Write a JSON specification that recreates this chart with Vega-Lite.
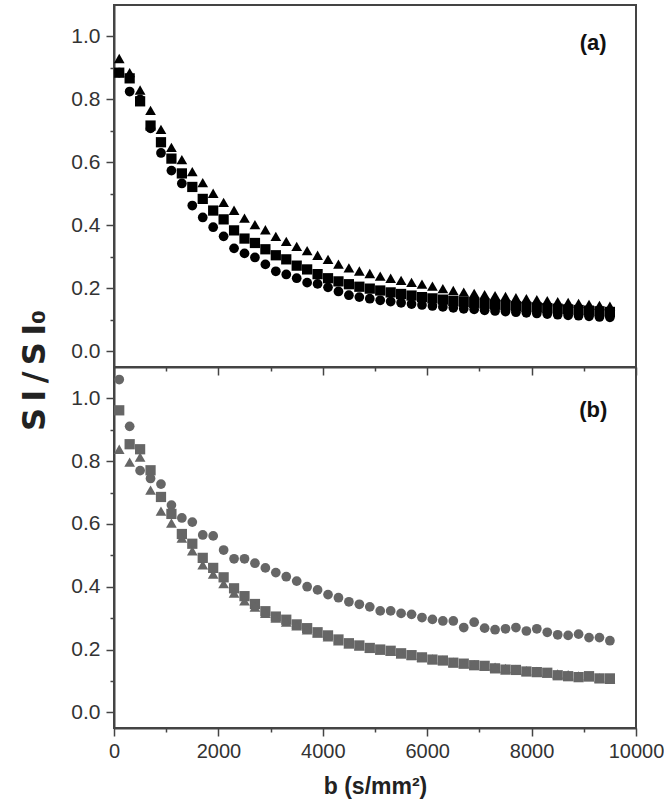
{
"$schema": "https://vega.github.io/schema/vega-lite/v6.json",
"padding": {"left": 18, "top": 4, "right": 0, "bottom": 0},
"bounds": "flush",
"spacing": 0,
"background": "white",
"title": {"text": "S\u2009I\u2009/\u2009S\u2009I\u2080", "orient": "left", "anchor": "middle", "dx": 31, "font": "DejaVu Sans", "fontSize": 32, "fontWeight": "bold", "color": "#222", "offset": 18},
"data": {"values": [
{"panel":"a","series":"circle","b":100,"si":0.885},{"panel":"a","series":"circle","b":300,"si":0.825},{"panel":"a","series":"circle","b":500,"si":0.8},{"panel":"a","series":"circle","b":700,"si":0.708},{"panel":"a","series":"circle","b":900,"si":0.63},{"panel":"a","series":"circle","b":1100,"si":0.574},{"panel":"a","series":"circle","b":1300,"si":0.533},{"panel":"a","series":"circle","b":1500,"si":0.463},{"panel":"a","series":"circle","b":1700,"si":0.425},{"panel":"a","series":"circle","b":1900,"si":0.394},{"panel":"a","series":"circle","b":2100,"si":0.365},{"panel":"a","series":"circle","b":2300,"si":0.327},{"panel":"a","series":"circle","b":2500,"si":0.311},{"panel":"a","series":"circle","b":2700,"si":0.298},{"panel":"a","series":"circle","b":2900,"si":0.276},{"panel":"a","series":"circle","b":3100,"si":0.254},{"panel":"a","series":"circle","b":3300,"si":0.244},{"panel":"a","series":"circle","b":3500,"si":0.232},{"panel":"a","series":"circle","b":3700,"si":0.218},{"panel":"a","series":"circle","b":3900,"si":0.214},{"panel":"a","series":"circle","b":4100,"si":0.203},{"panel":"a","series":"circle","b":4300,"si":0.19},{"panel":"a","series":"circle","b":4500,"si":0.178},{"panel":"a","series":"circle","b":4700,"si":0.172},{"panel":"a","series":"circle","b":4900,"si":0.167},{"panel":"a","series":"circle","b":5100,"si":0.162},{"panel":"a","series":"circle","b":5300,"si":0.158},{"panel":"a","series":"circle","b":5500,"si":0.154},{"panel":"a","series":"circle","b":5700,"si":0.15},{"panel":"a","series":"circle","b":5900,"si":0.147},{"panel":"a","series":"circle","b":6100,"si":0.144},{"panel":"a","series":"circle","b":6300,"si":0.141},{"panel":"a","series":"circle","b":6500,"si":0.138},{"panel":"a","series":"circle","b":6700,"si":0.135},{"panel":"a","series":"circle","b":6900,"si":0.133},{"panel":"a","series":"circle","b":7100,"si":0.13},{"panel":"a","series":"circle","b":7300,"si":0.128},{"panel":"a","series":"circle","b":7500,"si":0.126},{"panel":"a","series":"circle","b":7700,"si":0.124},{"panel":"a","series":"circle","b":7900,"si":0.122},{"panel":"a","series":"circle","b":8100,"si":0.12},{"panel":"a","series":"circle","b":8300,"si":0.118},{"panel":"a","series":"circle","b":8500,"si":0.116},{"panel":"a","series":"circle","b":8700,"si":0.114},{"panel":"a","series":"circle","b":8900,"si":0.113},{"panel":"a","series":"circle","b":9100,"si":0.111},{"panel":"a","series":"circle","b":9300,"si":0.109},{"panel":"a","series":"circle","b":9500,"si":0.108},
{"panel":"a","series":"square","b":100,"si":0.885},{"panel":"a","series":"square","b":300,"si":0.867},{"panel":"a","series":"square","b":500,"si":0.794},{"panel":"a","series":"square","b":700,"si":0.717},{"panel":"a","series":"square","b":900,"si":0.664},{"panel":"a","series":"square","b":1100,"si":0.612},{"panel":"a","series":"square","b":1300,"si":0.565},{"panel":"a","series":"square","b":1500,"si":0.522},{"panel":"a","series":"square","b":1700,"si":0.484},{"panel":"a","series":"square","b":1900,"si":0.447},{"panel":"a","series":"square","b":2100,"si":0.419},{"panel":"a","series":"square","b":2300,"si":0.384},{"panel":"a","series":"square","b":2500,"si":0.358},{"panel":"a","series":"square","b":2700,"si":0.344},{"panel":"a","series":"square","b":2900,"si":0.324},{"panel":"a","series":"square","b":3100,"si":0.305},{"panel":"a","series":"square","b":3300,"si":0.292},{"panel":"a","series":"square","b":3500,"si":0.272},{"panel":"a","series":"square","b":3700,"si":0.26},{"panel":"a","series":"square","b":3900,"si":0.245},{"panel":"a","series":"square","b":4100,"si":0.232},{"panel":"a","series":"square","b":4300,"si":0.222},{"panel":"a","series":"square","b":4500,"si":0.213},{"panel":"a","series":"square","b":4700,"si":0.205},{"panel":"a","series":"square","b":4900,"si":0.199},{"panel":"a","series":"square","b":5100,"si":0.193},{"panel":"a","series":"square","b":5300,"si":0.187},{"panel":"a","series":"square","b":5500,"si":0.182},{"panel":"a","series":"square","b":5700,"si":0.177},{"panel":"a","series":"square","b":5900,"si":0.172},{"panel":"a","series":"square","b":6100,"si":0.168},{"panel":"a","series":"square","b":6300,"si":0.164},{"panel":"a","series":"square","b":6500,"si":0.16},{"panel":"a","series":"square","b":6700,"si":0.157},{"panel":"a","series":"square","b":6900,"si":0.154},{"panel":"a","series":"square","b":7100,"si":0.151},{"panel":"a","series":"square","b":7300,"si":0.148},{"panel":"a","series":"square","b":7500,"si":0.146},{"panel":"a","series":"square","b":7700,"si":0.143},{"panel":"a","series":"square","b":7900,"si":0.141},{"panel":"a","series":"square","b":8100,"si":0.139},{"panel":"a","series":"square","b":8300,"si":0.137},{"panel":"a","series":"square","b":8500,"si":0.135},{"panel":"a","series":"square","b":8700,"si":0.133},{"panel":"a","series":"square","b":8900,"si":0.131},{"panel":"a","series":"square","b":9100,"si":0.129},{"panel":"a","series":"square","b":9300,"si":0.127},{"panel":"a","series":"square","b":9500,"si":0.125},
{"panel":"a","series":"triangle","b":100,"si":0.93},{"panel":"a","series":"triangle","b":300,"si":0.885},{"panel":"a","series":"triangle","b":500,"si":0.83},{"panel":"a","series":"triangle","b":700,"si":0.765},{"panel":"a","series":"triangle","b":900,"si":0.705},{"panel":"a","series":"triangle","b":1100,"si":0.648},{"panel":"a","series":"triangle","b":1300,"si":0.609},{"panel":"a","series":"triangle","b":1500,"si":0.571},{"panel":"a","series":"triangle","b":1700,"si":0.536},{"panel":"a","series":"triangle","b":1900,"si":0.502},{"panel":"a","series":"triangle","b":2100,"si":0.473},{"panel":"a","series":"triangle","b":2300,"si":0.448},{"panel":"a","series":"triangle","b":2500,"si":0.423},{"panel":"a","series":"triangle","b":2700,"si":0.402},{"panel":"a","series":"triangle","b":2900,"si":0.386},{"panel":"a","series":"triangle","b":3100,"si":0.365},{"panel":"a","series":"triangle","b":3300,"si":0.349},{"panel":"a","series":"triangle","b":3500,"si":0.333},{"panel":"a","series":"triangle","b":3700,"si":0.32},{"panel":"a","series":"triangle","b":3900,"si":0.305},{"panel":"a","series":"triangle","b":4100,"si":0.292},{"panel":"a","series":"triangle","b":4300,"si":0.277},{"panel":"a","series":"triangle","b":4500,"si":0.265},{"panel":"a","series":"triangle","b":4700,"si":0.255},{"panel":"a","series":"triangle","b":4900,"si":0.247},{"panel":"a","series":"triangle","b":5100,"si":0.239},{"panel":"a","series":"triangle","b":5300,"si":0.232},{"panel":"a","series":"triangle","b":5500,"si":0.225},{"panel":"a","series":"triangle","b":5700,"si":0.219},{"panel":"a","series":"triangle","b":5900,"si":0.213},{"panel":"a","series":"triangle","b":6100,"si":0.207},{"panel":"a","series":"triangle","b":6300,"si":0.199},{"panel":"a","series":"triangle","b":6500,"si":0.193},{"panel":"a","series":"triangle","b":6700,"si":0.188},{"panel":"a","series":"triangle","b":6900,"si":0.184},{"panel":"a","series":"triangle","b":7100,"si":0.18},{"panel":"a","series":"triangle","b":7300,"si":0.177},{"panel":"a","series":"triangle","b":7500,"si":0.174},{"panel":"a","series":"triangle","b":7700,"si":0.17},{"panel":"a","series":"triangle","b":7900,"si":0.167},{"panel":"a","series":"triangle","b":8100,"si":0.164},{"panel":"a","series":"triangle","b":8300,"si":0.161},{"panel":"a","series":"triangle","b":8500,"si":0.158},{"panel":"a","series":"triangle","b":8700,"si":0.155},{"panel":"a","series":"triangle","b":8900,"si":0.152},{"panel":"a","series":"triangle","b":9100,"si":0.149},{"panel":"a","series":"triangle","b":9300,"si":0.146},{"panel":"a","series":"triangle","b":9500,"si":0.143},
{"panel":"b","series":"circle","b":100,"si":1.06},{"panel":"b","series":"circle","b":300,"si":0.911},{"panel":"b","series":"circle","b":500,"si":0.77},{"panel":"b","series":"circle","b":700,"si":0.745},{"panel":"b","series":"circle","b":900,"si":0.727},{"panel":"b","series":"circle","b":1100,"si":0.66},{"panel":"b","series":"circle","b":1300,"si":0.619},{"panel":"b","series":"circle","b":1500,"si":0.606},{"panel":"b","series":"circle","b":1700,"si":0.565},{"panel":"b","series":"circle","b":1900,"si":0.562},{"panel":"b","series":"circle","b":2100,"si":0.517},{"panel":"b","series":"circle","b":2300,"si":0.489},{"panel":"b","series":"circle","b":2500,"si":0.489},{"panel":"b","series":"circle","b":2700,"si":0.475},{"panel":"b","series":"circle","b":2900,"si":0.46},{"panel":"b","series":"circle","b":3100,"si":0.445},{"panel":"b","series":"circle","b":3300,"si":0.432},{"panel":"b","series":"circle","b":3500,"si":0.418},{"panel":"b","series":"circle","b":3700,"si":0.4},{"panel":"b","series":"circle","b":3900,"si":0.39},{"panel":"b","series":"circle","b":4100,"si":0.375},{"panel":"b","series":"circle","b":4300,"si":0.365},{"panel":"b","series":"circle","b":4500,"si":0.352},{"panel":"b","series":"circle","b":4700,"si":0.344},{"panel":"b","series":"circle","b":4900,"si":0.336},{"panel":"b","series":"circle","b":5100,"si":0.323},{"panel":"b","series":"circle","b":5300,"si":0.323},{"panel":"b","series":"circle","b":5500,"si":0.315},{"panel":"b","series":"circle","b":5700,"si":0.312},{"panel":"b","series":"circle","b":5900,"si":0.302},{"panel":"b","series":"circle","b":6100,"si":0.296},{"panel":"b","series":"circle","b":6300,"si":0.291},{"panel":"b","series":"circle","b":6500,"si":0.291},{"panel":"b","series":"circle","b":6700,"si":0.27},{"panel":"b","series":"circle","b":6900,"si":0.287},{"panel":"b","series":"circle","b":7100,"si":0.268},{"panel":"b","series":"circle","b":7300,"si":0.263},{"panel":"b","series":"circle","b":7500,"si":0.266},{"panel":"b","series":"circle","b":7700,"si":0.27},{"panel":"b","series":"circle","b":7900,"si":0.259},{"panel":"b","series":"circle","b":8100,"si":0.266},{"panel":"b","series":"circle","b":8300,"si":0.255},{"panel":"b","series":"circle","b":8500,"si":0.247},{"panel":"b","series":"circle","b":8700,"si":0.245},{"panel":"b","series":"circle","b":8900,"si":0.249},{"panel":"b","series":"circle","b":9100,"si":0.238},{"panel":"b","series":"circle","b":9300,"si":0.238},{"panel":"b","series":"circle","b":9500,"si":0.228},
{"panel":"b","series":"square","b":100,"si":0.962},{"panel":"b","series":"square","b":300,"si":0.854},{"panel":"b","series":"square","b":500,"si":0.838},{"panel":"b","series":"square","b":700,"si":0.771},{"panel":"b","series":"square","b":900,"si":0.686},{"panel":"b","series":"square","b":1100,"si":0.632},{"panel":"b","series":"square","b":1300,"si":0.568},{"panel":"b","series":"square","b":1500,"si":0.537},{"panel":"b","series":"square","b":1700,"si":0.492},{"panel":"b","series":"square","b":1900,"si":0.46},{"panel":"b","series":"square","b":2100,"si":0.43},{"panel":"b","series":"square","b":2300,"si":0.395},{"panel":"b","series":"square","b":2500,"si":0.37},{"panel":"b","series":"square","b":2700,"si":0.345},{"panel":"b","series":"square","b":2900,"si":0.322},{"panel":"b","series":"square","b":3100,"si":0.305},{"panel":"b","series":"square","b":3300,"si":0.295},{"panel":"b","series":"square","b":3500,"si":0.28},{"panel":"b","series":"square","b":3700,"si":0.268},{"panel":"b","series":"square","b":3900,"si":0.255},{"panel":"b","series":"square","b":4100,"si":0.245},{"panel":"b","series":"square","b":4300,"si":0.232},{"panel":"b","series":"square","b":4500,"si":0.22},{"panel":"b","series":"square","b":4700,"si":0.213},{"panel":"b","series":"square","b":4900,"si":0.205},{"panel":"b","series":"square","b":5100,"si":0.2},{"panel":"b","series":"square","b":5300,"si":0.196},{"panel":"b","series":"square","b":5500,"si":0.188},{"panel":"b","series":"square","b":5700,"si":0.182},{"panel":"b","series":"square","b":5900,"si":0.175},{"panel":"b","series":"square","b":6100,"si":0.168},{"panel":"b","series":"square","b":6300,"si":0.165},{"panel":"b","series":"square","b":6500,"si":0.158},{"panel":"b","series":"square","b":6700,"si":0.155},{"panel":"b","series":"square","b":6900,"si":0.15},{"panel":"b","series":"square","b":7100,"si":0.148},{"panel":"b","series":"square","b":7300,"si":0.14},{"panel":"b","series":"square","b":7500,"si":0.136},{"panel":"b","series":"square","b":7700,"si":0.135},{"panel":"b","series":"square","b":7900,"si":0.13},{"panel":"b","series":"square","b":8100,"si":0.128},{"panel":"b","series":"square","b":8300,"si":0.126},{"panel":"b","series":"square","b":8500,"si":0.118},{"panel":"b","series":"square","b":8700,"si":0.115},{"panel":"b","series":"square","b":8900,"si":0.112},{"panel":"b","series":"square","b":9100,"si":0.115},{"panel":"b","series":"square","b":9300,"si":0.108},{"panel":"b","series":"square","b":9500,"si":0.108},
{"panel":"b","series":"triangle","b":100,"si":0.838},{"panel":"b","series":"triangle","b":300,"si":0.797},{"panel":"b","series":"triangle","b":500,"si":0.813},{"panel":"b","series":"triangle","b":700,"si":0.708},{"panel":"b","series":"triangle","b":900,"si":0.641},{"panel":"b","series":"triangle","b":1100,"si":0.603},{"panel":"b","series":"triangle","b":1300,"si":0.555},{"panel":"b","series":"triangle","b":1500,"si":0.514},{"panel":"b","series":"triangle","b":1700,"si":0.47},{"panel":"b","series":"triangle","b":1900,"si":0.44},{"panel":"b","series":"triangle","b":2100,"si":0.41},{"panel":"b","series":"triangle","b":2300,"si":0.38},{"panel":"b","series":"triangle","b":2500,"si":0.355},{"panel":"b","series":"triangle","b":2700,"si":0.335},{"panel":"b","series":"triangle","b":2900,"si":0.315},{"panel":"b","series":"triangle","b":3100,"si":0.3},{"panel":"b","series":"triangle","b":3300,"si":0.287},{"panel":"b","series":"triangle","b":3500,"si":0.275},{"panel":"b","series":"triangle","b":3700,"si":0.263},{"panel":"b","series":"triangle","b":3900,"si":0.252},{"panel":"b","series":"triangle","b":4100,"si":0.24},{"panel":"b","series":"triangle","b":4300,"si":0.228},{"panel":"b","series":"triangle","b":4500,"si":0.218},{"panel":"b","series":"triangle","b":4700,"si":0.212},{"panel":"b","series":"triangle","b":4900,"si":0.205},{"panel":"b","series":"triangle","b":5100,"si":0.198},{"panel":"b","series":"triangle","b":5300,"si":0.195},{"panel":"b","series":"triangle","b":5500,"si":0.186},{"panel":"b","series":"triangle","b":5700,"si":0.182},{"panel":"b","series":"triangle","b":5900,"si":0.176},{"panel":"b","series":"triangle","b":6100,"si":0.17},{"panel":"b","series":"triangle","b":6300,"si":0.166},{"panel":"b","series":"triangle","b":6500,"si":0.16},{"panel":"b","series":"triangle","b":6700,"si":0.155},{"panel":"b","series":"triangle","b":6900,"si":0.152},{"panel":"b","series":"triangle","b":7100,"si":0.148},{"panel":"b","series":"triangle","b":7300,"si":0.144},{"panel":"b","series":"triangle","b":7500,"si":0.14},{"panel":"b","series":"triangle","b":7700,"si":0.137},{"panel":"b","series":"triangle","b":7900,"si":0.133},{"panel":"b","series":"triangle","b":8100,"si":0.13},{"panel":"b","series":"triangle","b":8300,"si":0.126},{"panel":"b","series":"triangle","b":8500,"si":0.122},{"panel":"b","series":"triangle","b":8700,"si":0.12},{"panel":"b","series":"triangle","b":8900,"si":0.116},{"panel":"b","series":"triangle","b":9100,"si":0.113},{"panel":"b","series":"triangle","b":9300,"si":0.11},{"panel":"b","series":"triangle","b":9500,"si":0.105}
]},
"vconcat": [
{"width": 522, "height": 362,
 "resolve": {"axis": {"x": "independent", "y": "independent"}},
 "layer": [
  {"transform": [{"filter": "datum.panel == 'a'"}],
   "mark": {"type": "point", "filled": true, "opacity": 1, "strokeWidth": 0},
   "encoding": {
    "x": {"field": "b", "type": "quantitative", "scale": {"domain": [0, 10000], "nice": false},
      "axis": {"orient": "bottom", "title": null, "labels": false, "values": [0,2000,4000,6000,8000,10000], "tickSize": 8}},
    "y": {"field": "si", "type": "quantitative", "scale": {"domain": [-0.05, 1.1], "nice": false, "zero": false},
      "axis": {"orient": "left", "title": null, "values": [0,0.2,0.4,0.6,0.8,1.0], "format": ".1f", "tickSize": 8}},
    "shape": {"field": "series", "type": "nominal", "scale": {"domain": ["circle","square","triangle"], "range": ["circle","square","triangle-up"]}, "legend": null},
    "size": {"field": "series", "type": "nominal", "scale": {"domain": ["circle","square","triangle"], "range": [95, 115, 200]}, "legend": null},
    "color": {"value": "#000000"}
   }},
  {"data": {"values": [{}]},
   "mark": {"type": "text", "font": "Liberation Sans", "fontSize": 22, "fontWeight": "bold", "color": "#111"},
   "encoding": {
    "x": {"datum": 9180, "type": "quantitative", "axis": {"orient": "bottom", "title": null, "labels": false, "domain": false, "values": [1000,3000,5000,7000,9000], "tickSize": 4}},
    "y": {"datum": 0.978, "type": "quantitative", "axis": {"orient": "left", "title": null, "labels": false, "domain": false, "values": [0.1,0.3,0.5,0.7,0.9], "tickSize": 4}},
    "text": {"value": "(a)"}}}
 ]},
{"width": 522, "height": 361,
 "resolve": {"axis": {"x": "independent", "y": "independent"}},
 "layer": [
  {"transform": [{"filter": "datum.panel == 'b'"}],
   "mark": {"type": "point", "filled": true, "opacity": 1, "strokeWidth": 0},
   "encoding": {
    "x": {"field": "b", "type": "quantitative", "scale": {"domain": [0, 10000], "nice": false},
      "axis": {"orient": "bottom", "title": "b (s/mm\u00b2)", "format": "d", "values": [0,2000,4000,6000,8000,10000], "tickSize": 8, "labelPadding": 5, "labelFontSize": 20, "titlePadding": 14}},
    "y": {"field": "si", "type": "quantitative", "scale": {"domain": [-0.05, 1.1], "nice": false, "zero": false},
      "axis": {"orient": "left", "title": null, "values": [0,0.2,0.4,0.6,0.8,1.0], "format": ".1f", "tickSize": 8}},
    "shape": {"field": "series", "type": "nominal", "scale": {"domain": ["circle","square","triangle"], "range": ["circle","square","triangle-up"]}, "legend": null},
    "size": {"field": "series", "type": "nominal", "scale": {"domain": ["circle","square","triangle"], "range": [90, 120, 175]}, "legend": null},
    "color": {"value": "#666666"}
   }},
  {"data": {"values": [{}]},
   "mark": {"type": "text", "font": "Liberation Sans", "fontSize": 22, "fontWeight": "bold", "color": "#111"},
   "encoding": {
    "x": {"datum": 9180, "type": "quantitative", "axis": {"orient": "bottom", "title": null, "labels": false, "domain": false, "values": [1000,3000,5000,7000,9000], "tickSize": 4}},
    "y": {"datum": 0.962, "type": "quantitative", "axis": {"orient": "left", "title": null, "labels": false, "domain": false, "values": [0.1,0.3,0.5,0.7,0.9], "tickSize": 4}},
    "text": {"value": "(b)"}}}
 ]}
],
"config": {
 "view": {"stroke": "#444444", "strokeWidth": 2},
 "axis": {"labelFont": "Liberation Sans", "labelFontSize": 21, "labelColor": "#333333", "labelPadding": 6,
   "domainColor": "#444444", "domainWidth": 2, "tickColor": "#444444", "tickWidth": 1.5, "grid": false,
   "labelOverlap": false, "labelFlush": false,
   "titleFont": "Liberation Sans", "titleFontWeight": "bold", "titleFontSize": 23, "titleColor": "#222222"}
}
}
